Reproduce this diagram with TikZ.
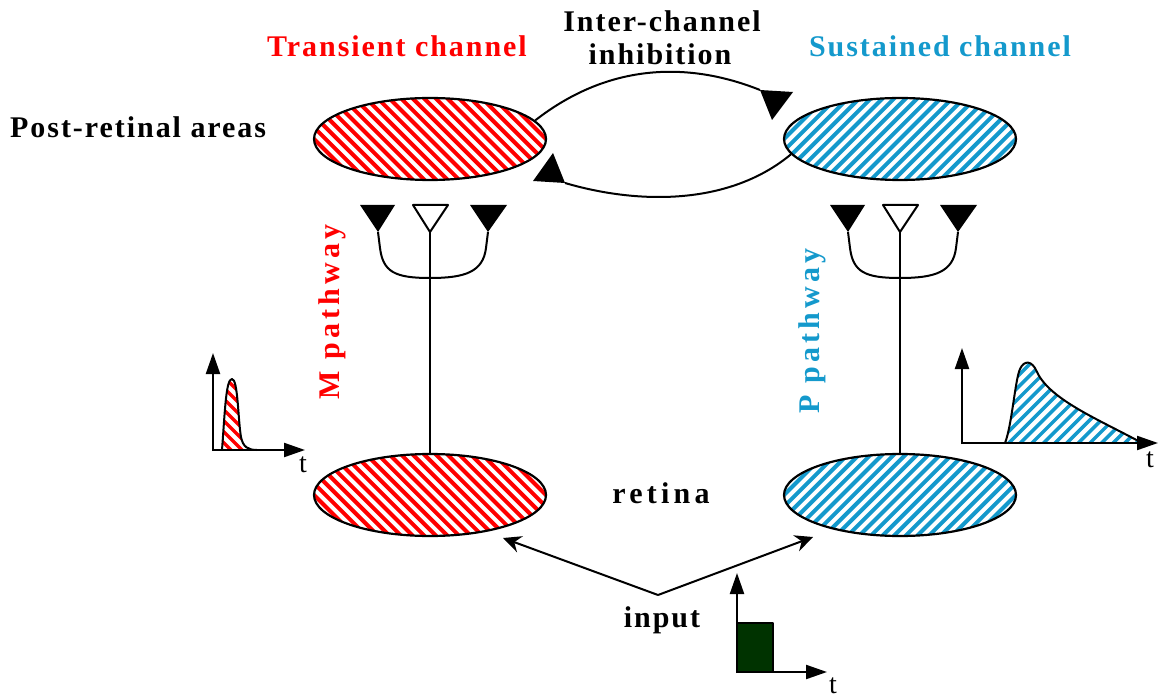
\documentclass[tikz,border=0pt]{standalone}
\usepackage{fontspec}
\setmainfont{Liberation Serif}
\newfontfamily\lblfont{Liberation Serif}[LetterSpace=6.5]
\newfontfamily\widefont{Liberation Serif}[LetterSpace=14]
\usetikzlibrary{shapes.geometric,arrows.meta}
\definecolor{tred}{RGB}{255,0,0}
\definecolor{sblue}{RGB}{20,153,204}
\definecolor{pulsegreen}{RGB}{0,51,0}

\tikzset{
  lbl/.style={font=\fontsize{30}{34}\selectfont\lblfont\bfseries, inner sep=0pt},
  widelbl/.style={font=\fontsize{30}{34}\selectfont\widefont\bfseries, inner sep=0pt},
  tlbl/.style={font=\fontsize{28}{30}\selectfont, inner sep=0pt},
  chan/.style={ellipse, draw, line width=2.2pt, minimum width=232pt,
    minimum height=82pt, inner sep=0pt},
  redhatch/.style={path picture={
    \foreach \k in {-18,...,18}
      \draw[tred, line width=4pt] (path picture bounding box.center)
        ++(\k*11.6-130,-130) -- ++(260,260);}},
  bluehatch/.style={path picture={
    \foreach \k in {-18,...,18}
      \draw[sblue, line width=4pt] (path picture bounding box.center)
        ++(\k*11.6-130,130) -- ++(260,-260);}},
  conn/.style={line width=2pt},
  axis/.style={line width=2.2pt, -{Triangle[length=21pt,width=14pt]}},
  inarrow/.style={line width=2pt, -{Stealth[length=18pt,width=17pt,inset=6pt]}},
  synapse/.pic={
    \fill (-70,-27) -- (-35,-27) -- (-52,0) -- cycle;
    \draw[line width=2pt, fill=white] (-17,-27) -- (18,-27) -- (0,0) -- cycle;
    \fill (40,-27) -- (77,-27) -- (58,0) -- cycle;
    \draw[line width=2pt] (-52,0) -- (-50,16) .. controls (-47,40) and (-35,46) ..
      (0,46) .. controls (35,46) and (53,40) .. (56,16) -- (58,0);
    \coordinate (-tip) at (0,0);
  }
}

\begin{document}
\begin{tikzpicture}[x=1pt,y=-1pt,line join=round]
\useasboundingbox (0,0) rectangle (1158,700);

% channel areas
\node[chan, redhatch]  (tl) at (430,139) {};
\node[chan, bluehatch] (tr) at (900,139) {};
\node[chan, redhatch]  (bl) at (430,495) {};
\node[chan, bluehatch] (br) at (900,495) {};

% titles
\node[lbl, tred,  anchor=base] (ttrans) at (397,57) {Transient channel};
\node[lbl, sblue, anchor=base] (tsust)  at (940,57) {Sustained channel};
\node[lbl, anchor=base] (tinter) at (662,32) {Inter-channel};
\node[lbl, anchor=base] (tinhib) at (660,65) {inhibition};
\node[lbl, anchor=base west] (tpost) at (10,138) {Post-retinal areas};
\node[widelbl, anchor=base] (tret) at (661,503) {retina};
\node[lbl, anchor=base] (tin) at (662,627) {input};
\node[widelbl, tred,  rotate=90] (tm) at (332,312) {M pathway};
\node[widelbl, sblue, rotate=90] (tp) at (812,331) {P pathway};

% inter-channel inhibition
\coordinate (ihtop) at (760,90);
\draw[conn] (tl.10) .. controls (610,62) and (690,62) .. (ihtop);
\fill (ihtop) -- (793,92) -- (772,120) -- cycle;
\coordinate (ihbot) at (565,183);
\draw[conn] (tr.188) .. controls (730,205) and (640,205) .. (ihbot);
\fill (ihbot) -- (553,153) -- (533,181) -- cycle;

% pathways from retina to post-retinal areas
\pic (ms) at (430,232) {synapse};
\pic (ps) at (900,232) {synapse};
\draw[conn] (ms-tip) -- (bl.north);
\draw[conn] (ps-tip) -- (br.north);

% input
\coordinate (src) at (658,595);
\coordinate (mend) at (503,538);
\coordinate (pend) at (813,537);
\draw[inarrow] (src) -- (mend);
\draw[inarrow] (src) -- (pend);

% transient response
\path[path picture={
    \foreach \k in {-6,...,6}
      \draw[tred, line width=3.5pt] (path picture bounding box.center)
        ++(\k*11-80,-80) -- ++(160,160);}]
  (222,450) .. controls (225,410) and (226,379) .. (232,379)
  .. controls (238,379) and (238,420) .. (241,437)
  .. controls (243,447) and (248,450) .. (257,450) -- cycle;
\draw[line width=2pt] (222,450) .. controls (225,410) and (226,379) .. (232,379)
  .. controls (238,379) and (238,420) .. (241,437)
  .. controls (243,447) and (248,450) .. (257,450);
\draw[axis] (213,451) -- (213,353);
\draw[axis] (212,450) -- (305,450);
\node[tlbl] (mt) at (303,465) {t};

% sustained response
\path[path picture={
    \foreach \k in {-14,...,14}
      \draw[sblue, line width=3.5pt] (path picture bounding box.center)
        ++(\k*11.6-100,100) -- ++(200,-200);}]
  (1005,443) .. controls (1012,425) and (1015,380) .. (1020,369)
  .. controls (1024,360) and (1032,360) .. (1037,372)
  .. controls (1050,400) and (1100,420) .. (1142,443) -- cycle;
\draw[line width=2pt] (1005,443) .. controls (1012,425) and (1015,380) .. (1020,369)
  .. controls (1024,360) and (1032,360) .. (1037,372)
  .. controls (1050,400) and (1100,420) .. (1142,443);
\draw[axis] (962,444) -- (962,348);
\draw[axis] (961,443) -- (1158,443);
\node[tlbl] (pt) at (1150,460) {t};

% input step
\draw[line width=2pt, fill=pulsegreen] (737,623) rectangle (773,672);
\draw[axis] (737,673) -- (737,573);
\draw[axis] (736,672) -- (827,672);
\node[tlbl] (it) at (833,686) {t};
\end{tikzpicture}
\end{document}
